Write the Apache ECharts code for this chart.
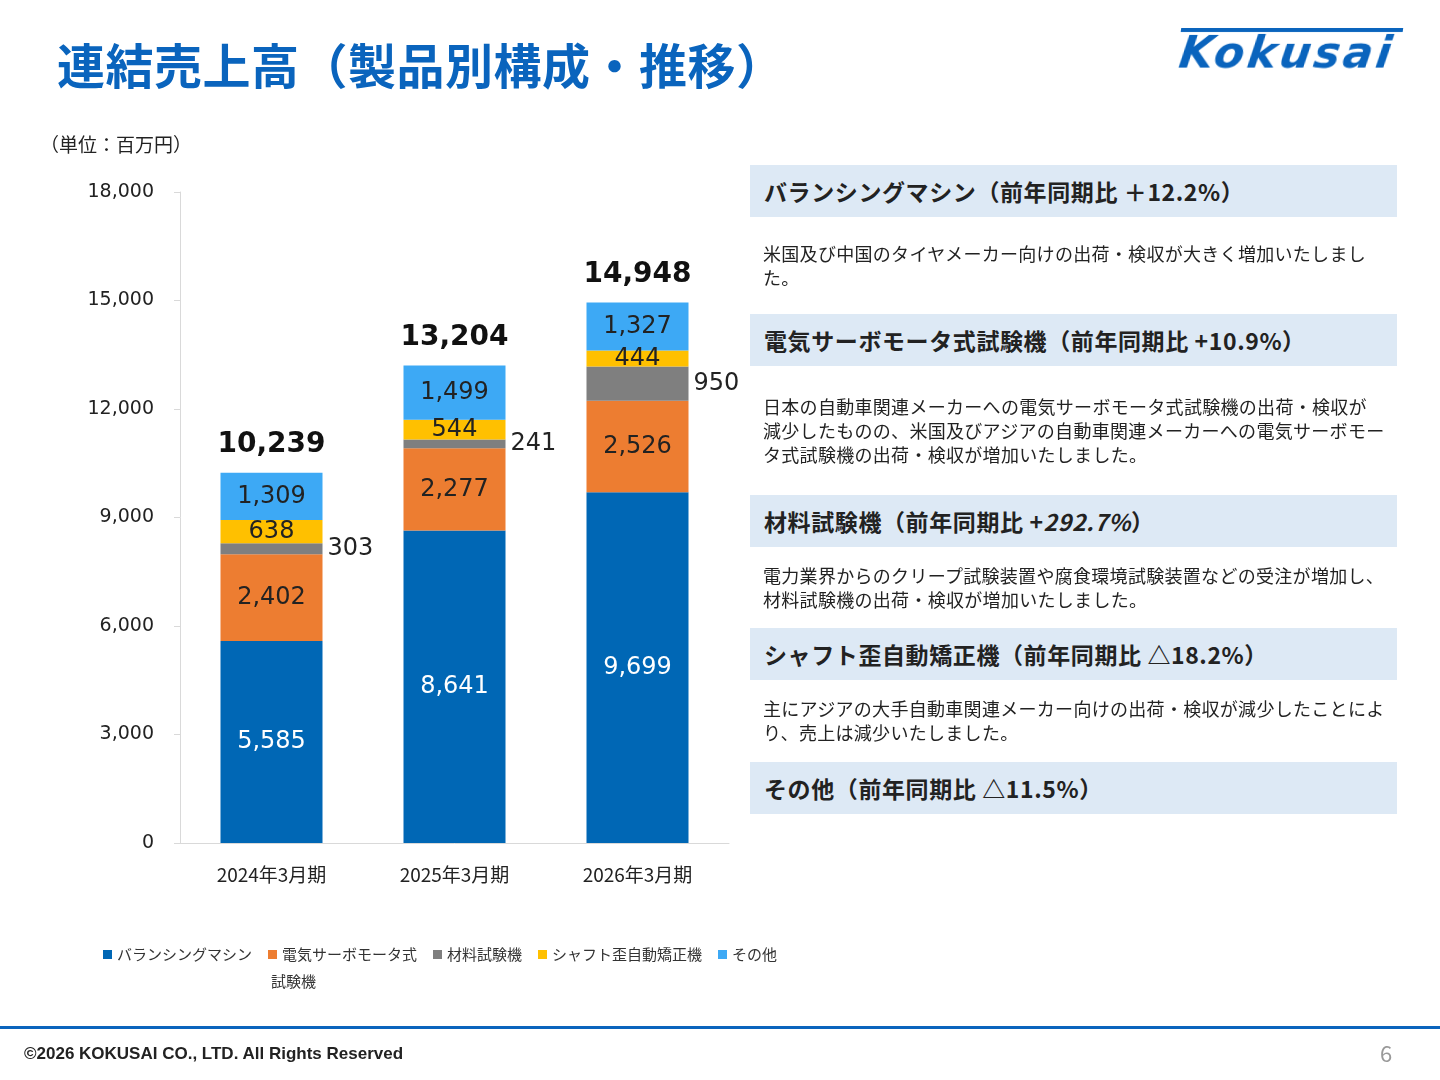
<!DOCTYPE html>
<html><head><meta charset="utf-8">
<script src="https://cdn.jsdelivr.net/npm/echarts@6/dist/echarts.min.js"></script>
<style>
body{margin:0;width:1440px;height:1080px;position:relative;background:#fff;font-family:"Noto Sans CJK JP","Noto Sans",sans-serif;overflow:hidden;color:#222}
.abs{position:absolute}
#title{left:57px;top:28px;font-size:48px;font-weight:bold;color:#0a64bd;letter-spacing:0.5px}
#logo{left:1178px;top:28px;width:220px;font-family:"DejaVu Sans";font-style:italic;font-weight:bold;font-size:44px;color:#0a64bd;letter-spacing:3px;border-top:4px solid #0a64bd;line-height:42px;padding-left:2px;transform:skewX(-8deg)}
#unit{left:40px;top:130px;font-size:19px}
.box{left:750px;width:647px;height:52px;background:#dde9f5;font-size:23px;font-weight:bold;line-height:52px;padding-left:14px;box-sizing:border-box;letter-spacing:0.6px}
.txt{left:763px;width:622px;font-size:18px;line-height:24px;letter-spacing:0.3px}
#chart{left:0;top:0;width:1440px;height:1080px}
#rule{left:0;top:1026px;width:1440px;height:3px;background:#0a64bd}
#copy{left:24px;top:1044px;font-family:"Liberation Sans";font-weight:bold;font-size:17px}
#page{left:1380px;top:1036px;font-size:22px;color:#999}
#leg2{left:271px;top:970px;font-size:15px;color:#333}
</style></head><body>
<div id="chart" class="abs"></div>
<div id="title" class="abs">連結売上高（製品別構成・推移）</div>
<div id="logo" class="abs">Kokusai</div>
<div id="unit" class="abs">（単位：百万円）</div>
<div class="abs box" style="top:165px">バランシングマシン（前年同期比 ＋12.2%）</div>
<div class="abs txt" style="top:241px">米国及び中国のタイヤメーカー向けの出荷・検収が大きく増加いたしました。</div>
<div class="abs box" style="top:314px">電気サーボモータ式試験機（前年同期比 +10.9%）</div>
<div class="abs txt" style="top:394px">日本の自動車関連メーカーへの電気サーボモータ式試験機の出荷・検収が減少したものの、米国及びアジアの自動車関連メーカーへの電気サーボモータ式試験機の出荷・検収が増加いたしました。</div>
<div class="abs box" style="top:495px">材料試験機（前年同期比 +<i>292.7%</i>）</div>
<div class="abs txt" style="top:563px">電力業界からのクリープ試験装置や腐食環境試験装置などの受注が増加し、材料試験機の出荷・検収が増加いたしました。</div>
<div class="abs box" style="top:628px">シャフト歪自動矯正機（前年同期比 △18.2%）</div>
<div class="abs txt" style="top:696px">主にアジアの大手自動車関連メーカー向けの出荷・検収が減少したことにより、売上は減少いたしました。</div>
<div class="abs box" style="top:762px">その他（前年同期比 △11.5%）</div>
<div id="leg2" class="abs">試験機</div>
<div id="rule" class="abs"></div>
<div id="copy" class="abs">©2026 KOKUSAI CO., LTD. All Rights Reserved</div>
<div id="page" class="abs">6</div>
<script>
var categories = ['2024年3月期', '2025年3月期', '2026年3月期'];
var balancing = [5585, 8641, 9699];
var servo = [2402, 2277, 2526];
var material = [303, 241, 950];
var shaft = [638, 544, 444];
var others = [1309, 1499, 1327];
var totals = [10239, 13204, 14948];
var yTicks = [0, 3000, 6000, 9000, 12000, 15000, 18000];

var fmt = function (v) { return Number(v).toLocaleString('en-US'); };
function seg(name, data, color, labelColor, pos) {
  return {
    name: name, type: 'bar', stack: 's', data: data, barWidth: 102,
    itemStyle: { color: color },
    label: { show: true, position: pos || 'inside', color: labelColor, fontSize: 24,
      fontFamily: 'DejaVu Sans', formatter: function (p) { return fmt(p.value); } }
  };
}
var chart = echarts.init(document.getElementById('chart'));
chart.setOption({
  animation: false,
  textStyle: { fontFamily: 'Noto Sans CJK JP' },
  grid: { left: 180, top: 192, width: 549, height: 651 },
  legend: {
    left: 98, top: 942, itemWidth: 9, itemHeight: 9, itemGap: 16, icon: 'rect',
    textStyle: { fontSize: 15, color: '#333' },
    data: ['バランシングマシン', '電気サーボモータ式試験機', '材料試験機', 'シャフト歪自動矯正機', 'その他'],
    formatter: function (n) { return n === '電気サーボモータ式試験機' ? '電気サーボモータ式' : n; }
  },
  xAxis: {
    type: 'category', data: categories,
    axisLine: { lineStyle: { color: '#d9d9d9' } }, axisTick: { show: false },
    axisLabel: { fontSize: 19, color: '#222', margin: 22 }
  },
  yAxis: {
    type: 'value', min: 0, max: 18000, interval: 3000,
    axisLine: { show: true, lineStyle: { color: '#d9d9d9' } },
    axisTick: { show: true, inside: false, length: 6, lineStyle: { color: '#d9d9d9' } },
    splitLine: { show: false },
    axisLabel: { fontSize: 19, color: '#222', margin: 26, fontFamily: 'DejaVu Sans',
      formatter: function (v) { return yTicks.indexOf(v) >= 0 ? fmt(v) : ''; } }
  },
  series: [
    seg('バランシングマシン', balancing, '#0067b5', '#fff'),
    seg('電気サーボモータ式試験機', servo, '#ed7d31', '#222'),
    seg('材料試験機', material, '#7f7f7f', '#222', 'right'),
    seg('シャフト歪自動矯正機', shaft, '#ffc000', '#222'),
    seg('その他', others, '#3da9f5', '#222'),
    { name: 'total', type: 'bar', stack: 's', data: [0, 0, 0], barWidth: 102,
      label: { show: true, position: 'top', distance: 14, fontSize: 28, fontWeight: 'bold', color: '#111',
        fontFamily: 'DejaVu Sans', formatter: function (p) { return fmt(totals[p.dataIndex]); } } }
  ]
});
</script>
</body></html>
